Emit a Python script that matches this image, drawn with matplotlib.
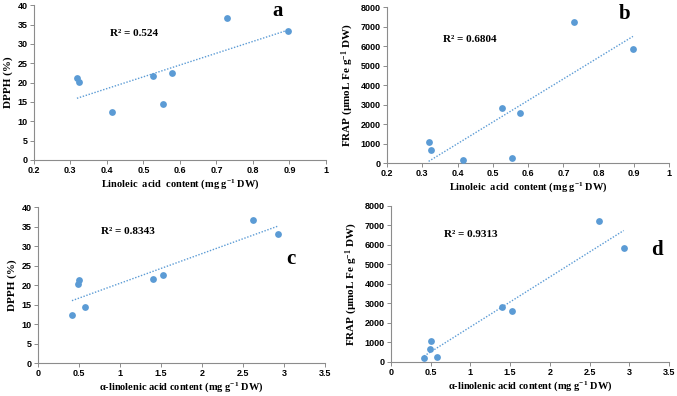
import matplotlib
matplotlib.use('Agg')
import matplotlib.pyplot as plt
import numpy as np

plt.rcParams['mathtext.fontset'] = 'custom'
plt.rcParams['mathtext.rm'] = 'Liberation Serif:bold'
plt.rcParams['mathtext.bf'] = 'Liberation Serif:bold'
plt.rcParams['mathtext.default'] = 'bf'

# data
linoleic = [0.318, 0.325, 0.415, 0.527, 0.555, 0.578, 0.730, 0.897]
alpha_linolenic = [0.50, 0.49, 0.415, 1.40, 0.58, 1.52, 2.62, 2.93]
dpph = [21.3, 20.2, 12.4, 21.6, 14.4, 22.6, 36.7, 33.2]
frap = [1080, 660, 180, 2820, 250, 2590, 7250, 5840]

r2_labels = ['R² = 0.524', 'R² = 0.6804', 'R² = 0.8343', 'R² = 0.9313']
panel_letters = ['a', 'b', 'c', 'd']

BLUE = '#5B9BD5'
SERIF = 'Liberation Serif'
SANS = 'Liberation Sans'

fig = plt.figure(figsize=(6.77, 3.96), dpi=100)

# [left, bottom, width, height], x data, y data, xlim, xticks, ylim, yticks, labels, text spots
panels = [
    dict(rect=[0.050, 0.596, 0.4315, 0.391], x=linoleic, y=dpph,
         xlim=(0.2, 1.0), xticks=np.arange(0.2, 1.01, 0.1), ylim=(0, 40), yticks=range(0, 41, 5),
         xlabel='Linoleic  acid  content (mg g$^{-1}$ DW)', ylabel='DPPH (%)',
         r2pos=(0.26, 0.82), letterpos=(0.815, 0.96)),
    dict(rect=[0.5716, 0.588, 0.417, 0.394], x=linoleic, y=frap,
         xlim=(0.2, 1.0), xticks=np.arange(0.2, 1.01, 0.1), ylim=(0, 8000), yticks=range(0, 8001, 1000),
         xlabel='Linoleic  acid  content (mg g$^{-1}$ DW)', ylabel='FRAP (µmoL Fe g$^{-1}$ DW)',
         r2pos=(0.20, 0.795), letterpos=(0.82, 0.955)),
    dict(rect=[0.056, 0.083, 0.424, 0.394], x=alpha_linolenic, y=dpph,
         xlim=(0, 3.5), xticks=np.arange(0, 3.51, 0.5), ylim=(0, 40), yticks=range(0, 41, 5),
         xlabel='α-linolenic acid content (mg g$^{-1}$ DW)', ylabel='DPPH (%)',
         r2pos=(0.22, 0.845), letterpos=(0.865, 0.67)),
    dict(rect=[0.5776, 0.086, 0.4105, 0.394], x=alpha_linolenic, y=frap,
         xlim=(0, 3.5), xticks=np.arange(0, 3.51, 0.5), ylim=(0, 8000), yticks=range(0, 8001, 1000),
         xlabel='α-linolenic acid content (mg g$^{-1}$ DW)', ylabel='FRAP (µmoL Fe g$^{-1}$ DW)',
         r2pos=(0.19, 0.82), letterpos=(0.935, 0.72)),
]

for p, r2, letter in zip(panels, r2_labels, panel_letters):
    ax = fig.add_axes(p['rect'])
    x = np.array(p['x'])
    y = np.array(p['y'])
    ax.scatter(x, y, s=24, color=BLUE, zorder=3, linewidths=0)

    # linear trend line across data range
    k, b = np.polyfit(x, y, 1)
    xs = np.array([x.min(), x.max()])
    ax.plot(xs, k * xs + b, linestyle=(0, (1, 1.2)), color=BLUE, lw=1)

    ax.set_xlim(*p['xlim'])
    ax.set_ylim(*p['ylim'])
    ax.set_xticks(p['xticks'])
    ax.set_yticks(list(p['yticks']))
    ax.set_xticklabels(['%g' % round(t, 2) for t in p['xticks']])

    for s in ['top', 'right']:
        ax.spines[s].set_visible(False)
    for s in ['left', 'bottom']:
        ax.spines[s].set_color('#8c8c8c')
        ax.spines[s].set_linewidth(0.8)
    ax.tick_params(length=3, width=0.7, color='#8c8c8c', pad=1.5)
    for lab in ax.get_xticklabels() + ax.get_yticklabels():
        lab.set_family(SANS)
        lab.set_fontweight('bold')
        lab.set_fontsize(6.5)

    ax.set_xlabel(p['xlabel'], family=SERIF, fontweight='bold', fontsize=7.5, labelpad=1.5)
    ax.set_ylabel(p['ylabel'], family=SERIF, fontweight='bold', fontsize=8, labelpad=3)

    ax.text(p['r2pos'][0], p['r2pos'][1], r2, transform=ax.transAxes,
            family=SERIF, fontweight='bold', fontsize=8, va='center', ha='left')
    ax.text(p['letterpos'][0], p['letterpos'][1], letter, transform=ax.transAxes,
            family=SERIF, fontweight='bold', fontsize=15, va='center', ha='left')

fig.savefig('out.png', dpi=100)
